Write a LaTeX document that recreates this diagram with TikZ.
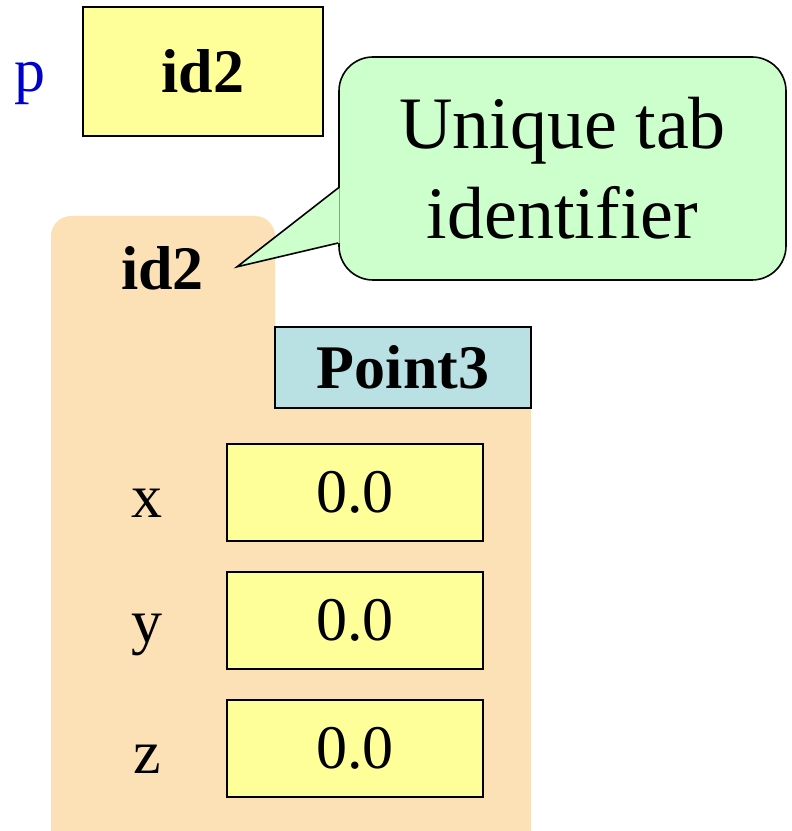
\documentclass[tikz,border=0pt]{standalone}
\usepackage{fontspec}
\setmainfont{Liberation Serif}
\usepackage{tikz}
\definecolor{slotyellow}{HTML}{FFFF99}
\definecolor{objpeach}{HTML}{FDE1B6}
\definecolor{notegreen}{HTML}{CCFFCC}
\definecolor{classblue}{HTML}{B9E0E3}
\definecolor{varblue}{HTML}{0000CC}

\begin{document}
\begin{tikzpicture}[x=1pt, y=1pt,
        slot/.style={draw=black, line width=1.6pt, fill=slotyellow, inner sep=0pt,
            minimum width=256pt, minimum height=97pt, font=\fontsize{62}{70}\selectfont},
        fieldname/.style={anchor=base, inner sep=0pt, font=\fontsize{62}{70}\selectfont},
        classbox/.style={draw=black, line width=1.6pt, fill=classblue, inner sep=0pt,
            minimum width=256pt, minimum height=81pt, font=\fontsize{62}{70}\selectfont\bfseries},
        notebox/.style={draw=black, line width=1.6pt, fill=notegreen, rounded corners=34pt,
            minimum width=447pt, minimum height=223pt, align=center, inner sep=0pt,
            font=\fontsize{74}{90}\selectfont}]
            \useasboundingbox (0,0) rectangle (792,831);
            % the variable p
            \node[fieldname, text=varblue] (p) at (30,739) {p};
            \node[slot, minimum width=240pt, minimum height=129pt, font=\fontsize{62}{70}\selectfont\bfseries] (pval) at (203,759.5) {id2};
            % the folder
            \fill[objpeach, rounded corners=20pt] (51,480) rectangle (275,615);
            \fill[objpeach] (51,0) rectangle (531,504);
            \node[fieldname, font=\fontsize{62}{70}\selectfont\bfseries] (tabid) at (162.5,541) {id2};
            \node[classbox] (cls) at (403,463.5) {Point3};
            \node[fieldname] (xname) at (147,313) {x};
            \node[slot] (xval) at (355,338.5) {0.0};
            \node[fieldname] (yname) at (147,188) {y};
            \node[slot] (yval) at (355,210.5) {0.0};
            \node[fieldname] (zname) at (147,57) {z};
            \node[slot] (zval) at (355,82.5) {0.0};
            % the speech bubble
            \node[notebox] (note) at (562.5,662.5) {Unique tab\\identifier};
            \coordinate (tip) at ([xshift=33pt,yshift=2pt]tabid.east);
            \coordinate (tailtop) at ([yshift=-19.5pt]note.west);
            \coordinate (tailbot) at ([yshift=-74.5pt]note.west);
            \fill[notegreen] ([xshift=1.5pt]tailtop) -- (tip) -- ([xshift=1.5pt]tailbot) -- cycle;
            \draw[black, line width=1.6pt, line join=miter] (tailtop) -- (tip) -- (tailbot);
        \end{tikzpicture}
\end{document}
